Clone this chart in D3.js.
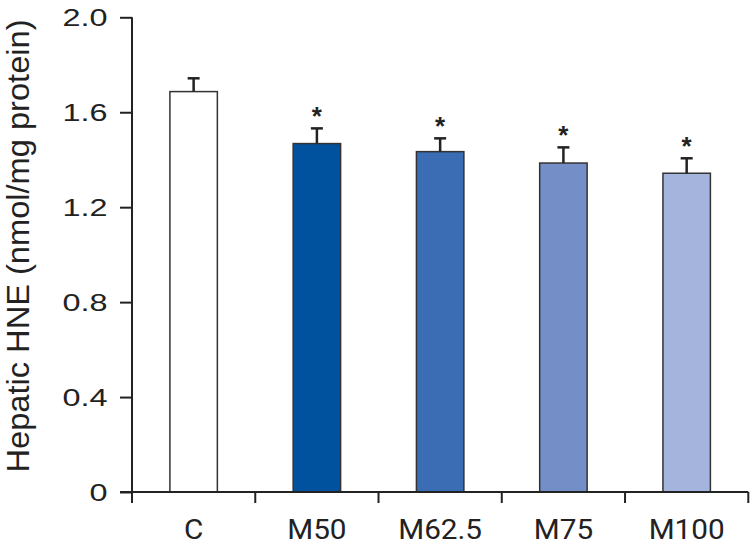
<!DOCTYPE html>
<html>
<head>
<meta charset="utf-8">
<script src="https://cdn.jsdelivr.net/npm/d3@7/dist/d3.min.js"></script>
<style>
  html, body { margin: 0; padding: 0; background: #fff; }
  svg { display: block; }
</style>
</head>
<body>
<svg id="chart" width="752" height="548"></svg>
<script>
const categories = ["C", "M50", "M62.5", "M75", "M100"];
const means = [1.687, 1.468, 1.434, 1.386, 1.343];
const errors = [0.056, 0.064, 0.056, 0.066, 0.063];
const significant = [false, true, true, true, true];
const barColors = ["#ffffff", "#00529f", "#3b6db4", "#748fc7", "#a4b4dc"];
const yTicks = [0, 0.4, 0.8, 1.2, 1.6, 2.0];
const yTickLabels = ["0", "0.4", "0.8", "1.2", "1.6", "2.0"];
const yTitle = "Hepatic HNE (nmol/mg protein)";

const svg = d3.select("#chart");
const x0 = 132, x1 = 748.3, yBase = 492, yTop = 17.3;

const x = d3.scaleBand().domain(categories).range([x0, x1])
  .paddingInner(0.615).paddingOuter(0.3075);
const xStep = d3.scaleBand().domain(categories).range([x0, x1]).padding(0);
const y = d3.scaleLinear().domain([0, 2.0]).range([yBase, yTop]);

const axisColor = "#222";
const sansFont = "Liberation Sans, Arial, sans-serif";

// bars
svg.selectAll("rect.bar").data(categories).join("rect")
  .attr("class", "bar")
  .attr("x", d => x(d))
  .attr("width", x.bandwidth())
  .attr("y", (d, i) => y(means[i]))
  .attr("height", (d, i) => y(0) - y(means[i]))
  .attr("fill", (d, i) => barColors[i])
  .attr("stroke", "#333")
  .attr("stroke-width", 1.5);

// error bars
const cx = d => x(d) + x.bandwidth() / 2;
svg.selectAll("line.err").data(categories).join("line")
  .attr("x1", cx).attr("x2", cx)
  .attr("y1", (d, i) => y(means[i]))
  .attr("y2", (d, i) => y(means[i] + errors[i]))
  .attr("stroke", axisColor).attr("stroke-width", 2.5);
svg.selectAll("line.cap").data(categories).join("line")
  .attr("x1", d => cx(d) - 6).attr("x2", d => cx(d) + 6)
  .attr("y1", (d, i) => y(means[i] + errors[i]))
  .attr("y2", (d, i) => y(means[i] + errors[i]))
  .attr("stroke", axisColor).attr("stroke-width", 2.5);

// stars
svg.selectAll("text.star").data(categories.filter((d, i) => significant[i])).join("text")
  .attr("class", "star")
  .attr("x", cx)
  .attr("y", d => { const i = categories.indexOf(d); return y(means[i] + errors[i]) - 3; })
  .attr("text-anchor", "middle")
  .attr("font-family", sansFont)
  .attr("font-size", 26)
  .attr("font-weight", "bold")
  .attr("fill", "#222")
  .text("*");

// y axis ticks via d3 axis (labels restyled)
const yAxis = d3.axisLeft(y).tickValues(yTicks)
  .tickFormat((d, i) => yTickLabels[i]).tickSize(12).tickPadding(0);
const gy = svg.append("g").attr("transform", `translate(${x0},0)`).call(yAxis);
gy.select(".domain").remove();
gy.selectAll(".tick line").attr("stroke", axisColor).attr("stroke-width", 2);
gy.selectAll(".tick text")
  .attr("x", null)
  .attr("dy", null)
  .attr("text-anchor", "end")
  .attr("transform", `translate(${107.5 - x0},8.6) scale(1.35,1)`)
  .attr("font-family", sansFont)
  .attr("font-size", 24).attr("fill", "#222");
svg.append("line").attr("x1", x0).attr("x2", x0).attr("y1", yTop).attr("y2", yBase + 11)
  .attr("stroke", axisColor).attr("stroke-width", 2);

// x axis
const boundaries = categories.map(d => xStep(d)).concat([x1]);
svg.append("line").attr("x1", x0 - 12).attr("x2", x1).attr("y1", yBase).attr("y2", yBase)
  .attr("stroke", axisColor).attr("stroke-width", 2);
svg.selectAll("line.xtick").data(boundaries).join("line")
  .attr("x1", d => d).attr("x2", d => d)
  .attr("y1", yBase).attr("y2", yBase + 11)
  .attr("stroke", axisColor).attr("stroke-width", 2);
svg.selectAll("text.xlab").data(categories).join("text")
  .attr("class", "xlab")
  .attr("transform", d => `translate(${xStep(d) + xStep.bandwidth() / 2},539) scale(1.1,1)`)
  .attr("text-anchor", "middle")
  .attr("font-family", "Roboto, sans-serif")
  .attr("font-size", 27)
  .attr("fill", "#222")
  .text(d => d);

// y title
svg.append("text")
  .attr("transform", `translate(28.5,246) scale(1.2,1.255) rotate(-90)`)
  .attr("text-anchor", "middle")
  .attr("font-family", sansFont)
  .attr("font-size", 26)
  .attr("fill", "#222")
  .text(yTitle);
</script>
</body>
</html>
